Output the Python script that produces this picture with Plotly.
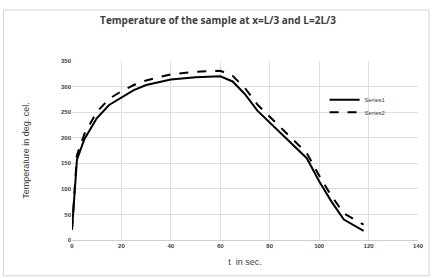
import plotly.graph_objects as go

t1 = [0, 2, 5, 10, 15, 20, 25, 30, 40, 50, 60, 65, 70, 75, 80, 90, 95, 100, 105, 110, 118]
series1 = [20, 157, 197, 238, 264, 279, 293, 303, 314, 318, 320, 310, 285, 253, 230, 185, 160, 115, 75, 40, 18]
t2 = [0, 2, 5, 10, 15, 20, 25, 30, 40, 50, 60, 65, 70, 75, 80, 90, 95, 100, 105, 110, 118]
series2 = [20, 166, 207, 250, 276, 291, 303, 312, 324, 329, 331, 321, 297, 265, 241, 195, 170, 126, 86, 52, 30]

title = "Temperature of the sample at x=L/3 and L=2L/3"
xtitle = "t  in sec."
ytitle = "Temperature in deg. cel."

fig = go.Figure()
fig.add_trace(go.Scatter(x=t1, y=series1, mode="lines", name="Series1",
                         line=dict(color="black", width=2), legend="legend"))
fig.add_trace(go.Scatter(x=t2, y=series2, mode="lines", name="Series2",
                         line=dict(color="black", width=2, dash="dash"), legend="legend2"))

leg_common = dict(xanchor="left", yanchor="middle", bgcolor="rgba(0,0,0,0)",
                  font=dict(size=6, color="#404040"), itemwidth=30)

fig.update_layout(
    width=436, height=278,
    margin=dict(l=72, r=16, t=61, b=38),
    paper_bgcolor="white", plot_bgcolor="white",
    font=dict(family="Liberation Sans, Arial", color="#404040"),
    title=dict(text=title, x=0.5, xanchor="center", y=0.925, yanchor="middle",
               font=dict(size=10, color="#404040", family="Open Sans, Arial", weight="bold")),
    xaxis=dict(range=[0, 140], dtick=20, showgrid=True, gridcolor="#dedede", gridwidth=1,
               zeroline=False, showline=True, linecolor="#cfcfcf",
               tickfont=dict(size=6, color="#404040", weight="bold"), ticks="",
               title=dict(text=xtitle, font=dict(size=9, color="#404040"), standoff=10)),
    yaxis=dict(range=[0, 350], dtick=50, showgrid=True, gridcolor="#dedede", gridwidth=1,
               zeroline=False, showline=False,
               tickfont=dict(size=6, color="#404040", weight="bold"), ticks=""),
    legend=dict(x=0.73, y=0.783, **leg_common),
    legend2=dict(x=0.73, y=0.713, **leg_common),
    showlegend=True,
)
fig.add_annotation(text=ytitle, xref="paper", yref="paper", x=-0.135, y=0.5,
                   xanchor="center", yanchor="middle", textangle=-90, showarrow=False,
                   font=dict(size=9, color="#404040"))
fig.add_shape(type="rect", xref="paper", yref="paper",
              x0=-0.198, x1=1.032, y0=-0.2, y1=1.285,
              line=dict(color="#d4d4d4", width=1), layer="above")

fig.write_html("out.html")
